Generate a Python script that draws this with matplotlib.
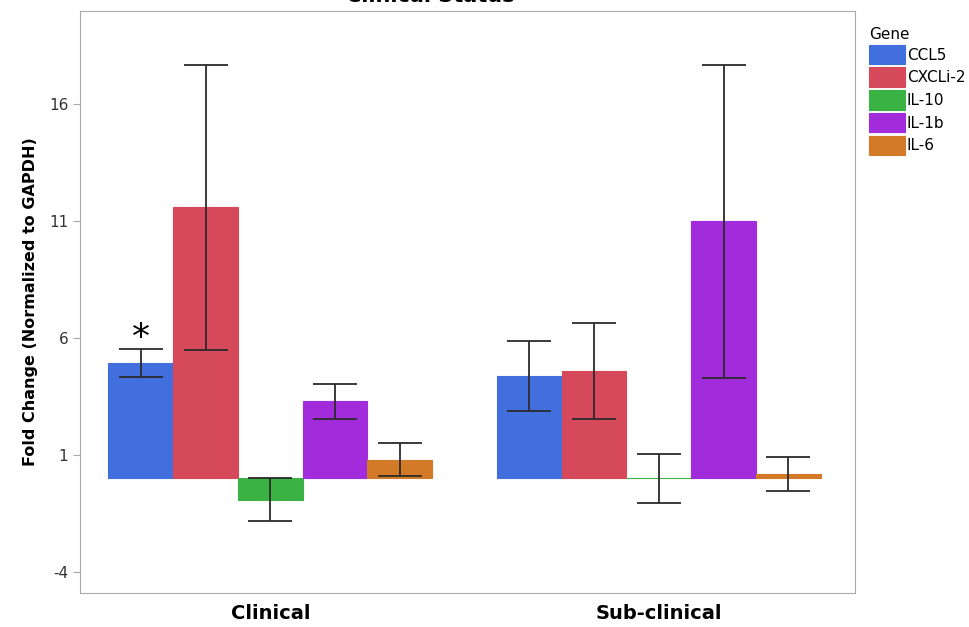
import numpy as np
import matplotlib.pyplot as plt

plt.rcParams['axes.unicode_minus'] = False

groups = ['Clinical', 'Sub-clinical']
genes = ['CCL5', 'CXCLi-2', 'IL-10', 'IL-1b', 'IL-6']
colors = ['#4170de', '#d6495a', '#3bb244', '#a22bdc', '#d27a27']

# mean fold change per gene: [Clinical, Sub-clinical]
means = {
    'CCL5':    [4.95, 4.38],
    'CXCLi-2': [11.6, 4.6],
    'IL-10':   [-0.9, 0.0],
    'IL-1b':   [3.3, 11.0],
    'IL-6':    [0.8, 0.2],
}
errs = {
    'CCL5':    [0.6, 1.5],
    'CXCLi-2': [6.1, 2.05],
    'IL-10':   [0.9, 1.03],
    'IL-1b':   [0.75, 6.7],
    'IL-6':    [0.7, 0.73],
}

fig = plt.figure(figsize=(9.69, 6.27), dpi=100)
ax = fig.add_axes([80 / 969, 1 - 593 / 627, 775 / 969, 582 / 627])

x = np.arange(len(groups))
w = 1 / 6
for i, g in enumerate(genes):
    pos = x + (i - 2) * w
    ax.bar(pos, means[g], width=w, color=colors[i], edgecolor=colors[i],
           linewidth=0.8, label=g, zorder=2)
    ax.errorbar(pos, means[g], yerr=errs[g], fmt='none', ecolor='#2b2b2b',
                elinewidth=1.3, capsize=16, capthick=1.3, zorder=3)

# significance mark
ax.text(x[0] - 2 * w, means['CCL5'][0] + errs['CCL5'][0] + 0.45, '*',
        ha='center', va='center', fontsize=26)

ax.set_xlim(-0.49, 1.505)
ax.set_ylim(-4.9, 20)
ax.set_yticks([-4, 1, 6, 11, 16])
ax.set_xticks(x)
ax.set_xticklabels(groups, fontsize=14, fontweight='bold')
ax.tick_params(axis='x', length=0, pad=8)
ax.tick_params(axis='y', labelsize=11, labelcolor='#333333', color='#aaaaaa', length=5)
ax.set_ylabel('Fold Change (Normalized to GAPDH)', fontsize=11.5, fontweight='bold', labelpad=8)
for s in ax.spines.values():
    s.set_color('#aaaaaa')

# title sits mostly above the visible area, as in the source image
fig.text(430 / 969, 1 - 2 / 627, 'Clinical Status', ha='center', va='baseline',
         fontsize=15, fontweight='bold')

leg = fig.legend(loc='upper left', bbox_to_anchor=(858 / 969, 1 - 16 / 627),
                 title='Gene', frameon=False, fontsize=11, title_fontsize=11,
                 handlelength=2.4, handleheight=1.6, handletextpad=0.1,
                 labelspacing=0.2, borderpad=0.2)
leg._legend_box.align = 'left'

fig.savefig('out.png', dpi=100)
